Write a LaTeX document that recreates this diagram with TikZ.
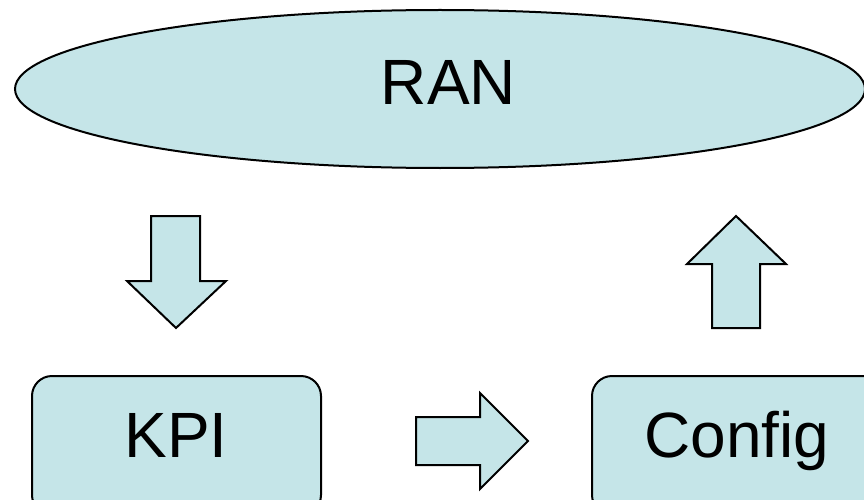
\documentclass[tikz,border=0pt]{standalone}
\usepackage{fontspec}
\setmainfont{Liberation Sans}
\usetikzlibrary{shapes.geometric}
\definecolor{paleteal}{RGB}{197,229,232}
\tikzset{
  shapeline/.style={draw=black, line width=2pt, fill=paleteal, line join=miter},
  bigtext/.style={font=\fontsize{64}{70}\selectfont, text=black, anchor=base, inner sep=0pt},
  roundbox/.style={shapeline, rounded corners=20pt},
}
\begin{document}
\begin{tikzpicture}[x=1pt, y=-1pt]
  \useasboundingbox (0,0) rectangle (864,500);
  \clip (0,0) rectangle (864,500);
  \fill[white] (0,0) rectangle (864,500);

  % radio access network
  \node[shapeline, ellipse, minimum width=850pt, minimum height=158pt, inner sep=0pt] (ran) at (440,89) {};
  \node[bigtext] (ranlabel) at (448.5,105) {RAN};

  % KPI and Config boxes
  \draw[roundbox] (32,376) rectangle (321,515);
  \node[bigtext] (kpi) at (176,457) {KPI};
  \draw[roundbox] (592,376) rectangle (890,515);
  \node[bigtext] (config) at (737,457) {Config};

  % block arrows
  \draw[shapeline] (151,216) -- (200,216) -- (200,281) -- (226,281) -- (176,328)
    -- (127,281) -- (151,281) -- cycle;
  \draw[shapeline] (736,216) -- (786,264) -- (760,264) -- (760,328) -- (712,328)
    -- (712,264) -- (687,264) -- cycle;
  \draw[shapeline] (416,417) -- (480,417) -- (480,393) -- (528,441) -- (480,489)
    -- (480,465) -- (416,465) -- cycle;
\end{tikzpicture}
\end{document}
